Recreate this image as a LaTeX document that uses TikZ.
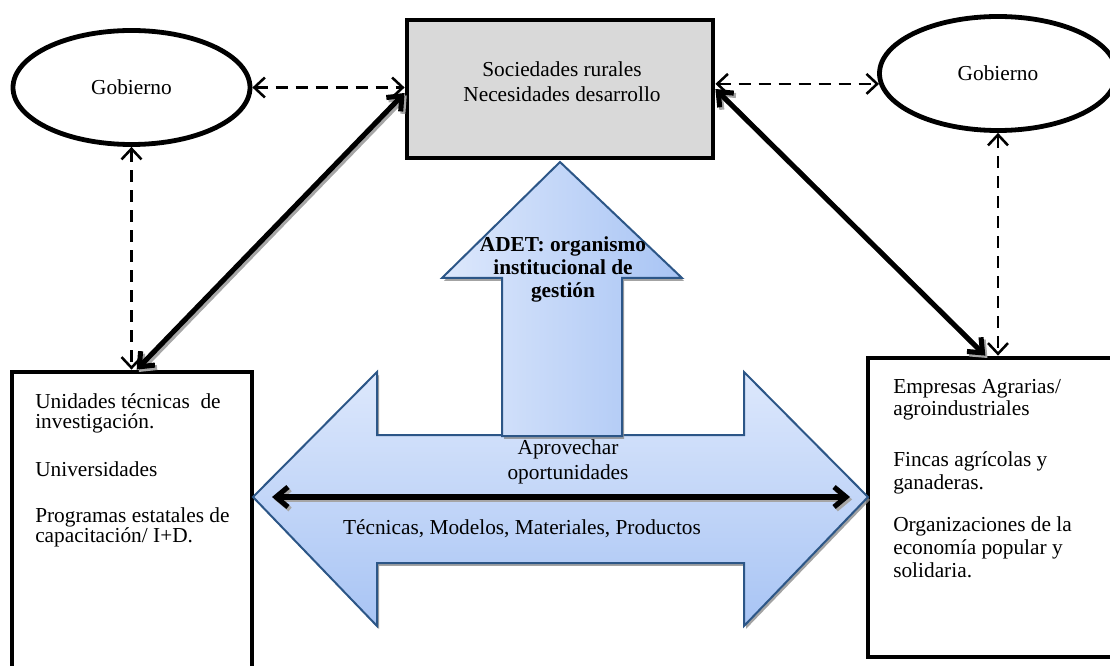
\documentclass[tikz,border=0pt]{standalone}
\usepackage{fontspec}
\setmainfont{Liberation Serif}
\usetikzlibrary{arrows.meta,shapes.geometric,shadows}

\definecolor{boxgray}{HTML}{D9D9D9}
\definecolor{arrowline}{HTML}{2C5687}
\definecolor{bluelight}{HTML}{DDE8FC}
\definecolor{bluedark}{HTML}{A8C4F4}

\begin{document}
\begin{tikzpicture}[x=0.75pt,y=-0.75pt,
  txt/.style={inner sep=0pt, font=\fontsize{16pt}{19pt}\selectfont},
  actor/.style={ellipse, draw, line width=3.6pt, inner sep=0pt,
    minimum width=237*0.75pt, minimum height=114*0.75pt, txt},
  panel/.style={rectangle, draw, line width=3.6pt, inner sep=0pt, fill=white},
  link/.style={line width=1.9pt, dash pattern=on 9pt off 6pt,
    {Straight Barb[length=8pt,width=15pt]}-{Straight Barb[length=8pt,width=15pt]}},
  flow/.style={line width=3.8pt,
    {Straight Barb[length=9pt,width=15pt]}-{Straight Barb[length=9pt,width=15pt]}},
  flowshadow/.style={flow, draw=black!35, transform canvas={shift={(1.6pt,-1.8pt)}}},
  block/.style={draw=arrowline, line width=1.5pt, line join=miter,
    drop shadow={shadow xshift=1.5pt, shadow yshift=-2.2pt, fill=black!45, opacity=0.8}},
]
\useasboundingbox (0,0) rectangle (1110,666);
\clip (0,0) rectangle (1110,666);

% actors and boxes
\node[actor] (gobL) at (131.5,87.5) {Gobierno};
\node[actor] (gobR) at (998,73.5) {Gobierno};
\node[panel, fill=boxgray, minimum width=306*0.75pt, minimum height=138*0.75pt,
  drop shadow={shadow xshift=1pt, shadow yshift=-1.5pt, fill=black!40, opacity=0.7}] (top) at (560,89) {};
\node[panel, minimum width=240*0.75pt, minimum height=300*0.75pt] (left) at (132,522) {};
\node[panel, minimum width=248*0.75pt, minimum height=299*0.75pt] (right) at (992,507.5) {};

% box texts (anchored at the baseline of their last line)
\node[txt, align=center, anchor=base, font=\fontsize{16pt}{18.75pt}\selectfont] (tTop) at (562,102)
  {Sociedades rurales\\Necesidades desarrollo};
\node[txt, align=left, anchor=base west, font=\fontsize{16pt}{15pt}\selectfont] (tLeft) at (35,542)
  {Unidades técnicas~ de\\investigación.\\[21pt]Universidades\\[19.5pt]Programas estatales de\\capacitación/ I+D.};
\node[txt, align=left, anchor=base west, font=\fontsize{16pt}{17pt}\selectfont] (tRight) at (893,577)
  {Empresas Agrarias/\\agroindustriales\\[21pt]Fincas agrícolas y\\ganaderas.\\[15pt]Organizaciones de la\\economía popular y\\solidaria.};

% dashed links with the government
\draw[link] (gobL.east) -- (gobL.east -| top.west);
\draw[link] (top.east |- gobR.185) -- (gobR.185);
\draw[link] (gobL.south) -- (gobL.south |- left.north);
\draw[link] (gobR.south) -- (gobR.south |- right.north);

% solid flows from the rural societies
\draw[flowshadow] ([yshift=-3pt]top.west) -- ([xshift=3.5pt]left.north);
\draw[flow] ([yshift=-3pt]top.west) -- ([xshift=3.5pt]left.north);
\draw[flowshadow] (top.east) -- ([xshift=-5pt]right.north);
\draw[flow] (top.east) -- ([xshift=-5pt]right.north);

% horizontal block arrow
\path[block, top color=bluelight, bottom color=bluedark]
  (253,497) -- (377,372) -- (377,435) -- (744,435) -- (744,372) -- (868,497)
  -- (744,626) -- (744,563) -- (377,563) -- (377,626) -- cycle;

% vertical block arrow
\path[block, left color=bluelight, right color=bluedark]
  (560,162) -- (682,278) -- (622,278) -- (622,436) -- (502,436) -- (502,278)
  -- (442,278) -- cycle;

\node[txt, align=center, anchor=base, font=\bfseries\fontsize{16pt}{17.25pt}\selectfont] (tAdet) at (563,298)
  {ADET: organismo\\institucional de\\gestión};

% exchange between both sides
\coordinate (hl) at (272,497);
\coordinate (hr) at (850,497);
\draw[flowshadow] (hl) -- (hr);
\draw[flow] (hl) -- (hr);

\node[txt, align=center, anchor=base, font=\fontsize{16pt}{18pt}\selectfont] (tApro) at (568,479)
  {Aprovechar\\oportunidades};
\node[txt, anchor=base] (tTec) at (522,534) {Técnicas, Modelos, Materiales, Productos};
\end{tikzpicture}
\end{document}
